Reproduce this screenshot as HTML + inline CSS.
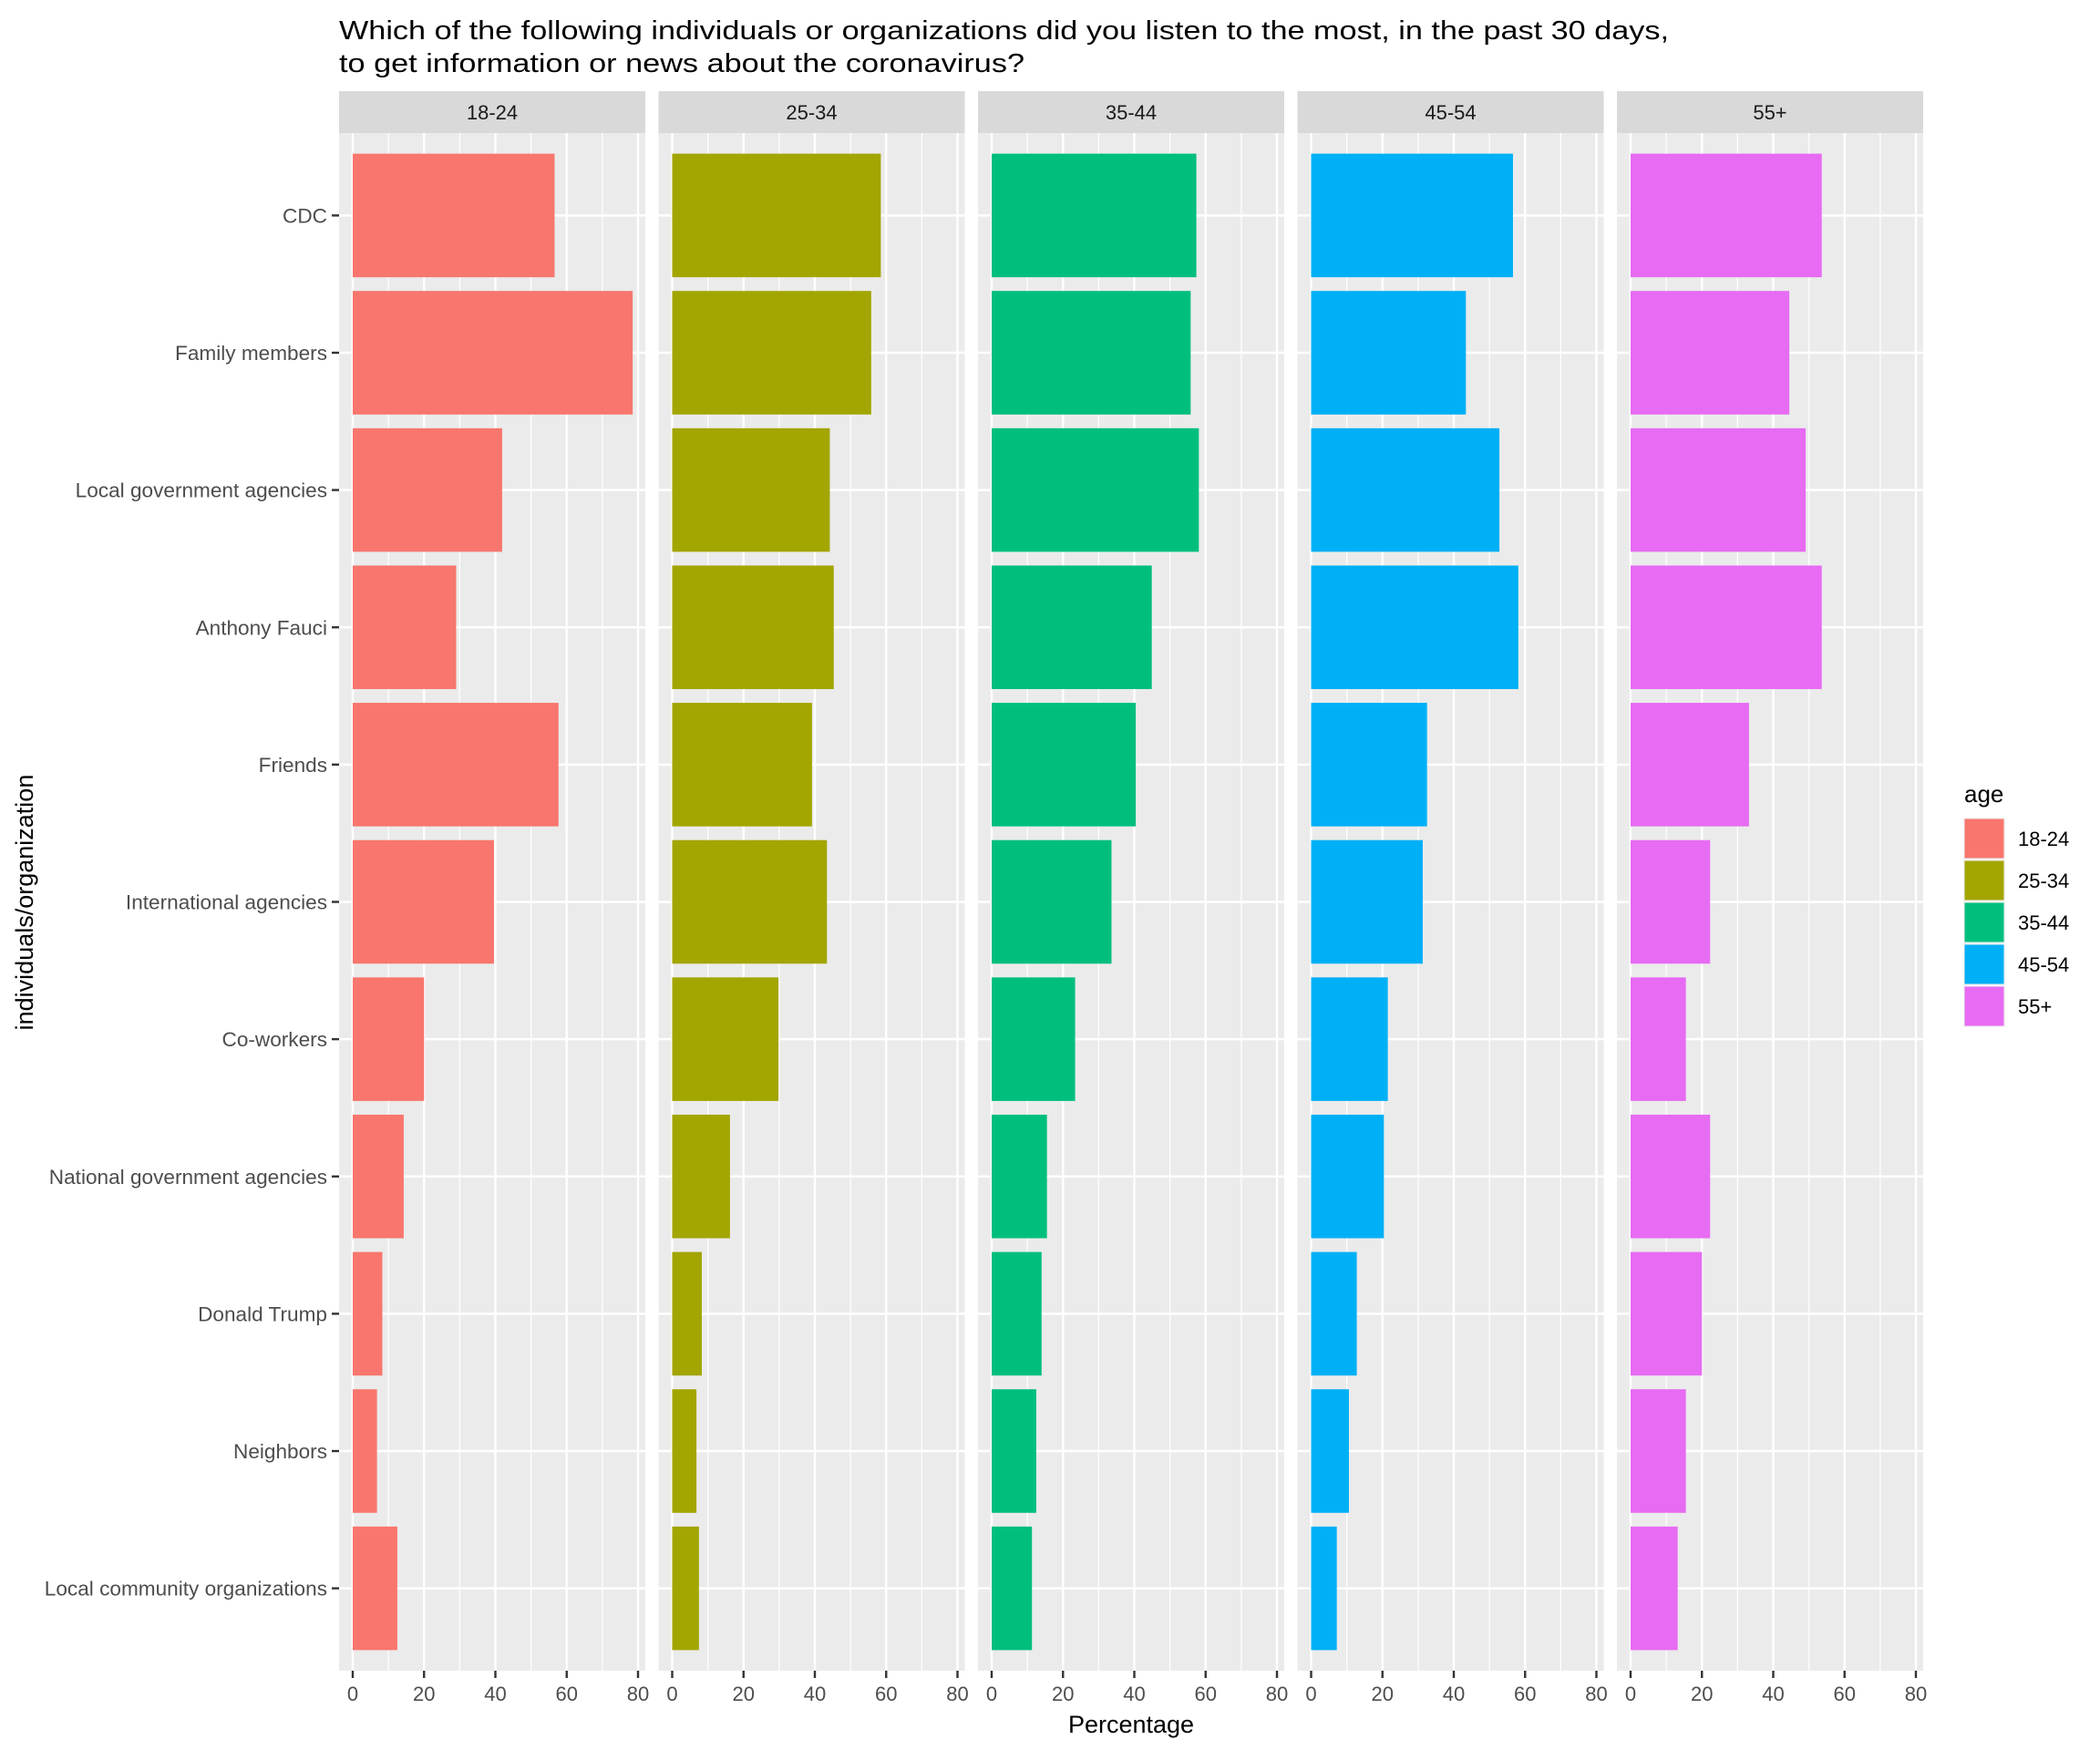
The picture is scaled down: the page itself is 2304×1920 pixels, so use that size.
<!DOCTYPE html>
<html><head><meta charset="utf-8"><style>
html,body{margin:0;padding:0;background:#fff;}
svg{display:block;font-family:"Liberation Sans",Arial,sans-serif;}
</style></head><body>
<svg id="chart" width="2304" height="1920" viewBox="0 0 2304 1920" xmlns="http://www.w3.org/2000/svg">
<text x="372" y="43" font-size="29" fill="#000" textLength="1459" lengthAdjust="spacingAndGlyphs">Which of the following individuals or organizations did you listen to the most, in the past 30 days,</text>
<text x="372" y="79" font-size="29" fill="#000" textLength="752" lengthAdjust="spacingAndGlyphs">to get information or news about the coronavirus?</text>
<text x="1241" y="1901" font-size="27" text-anchor="middle" fill="#000">Percentage</text>
<text transform="translate(36,990) rotate(-90)" font-size="27" text-anchor="middle" fill="#000">individuals/organization</text>
<g id="panels"></g>
<g id="legend"></g>
</svg>
<script>
const categories = ["CDC","Family members","Local government agencies","Anthony Fauci","Friends","International agencies","Co-workers","National government agencies","Donald Trump","Neighbors","Local community organizations"];
const ageGroups = ["18-24","25-34","35-44","45-54","55+"];
const colors = ["#F8766D","#A3A500","#00BF7D","#00B0F6","#E76BF3"];
const values1824 = [56.6,78.5,41.9,29,57.7,39.6,20,14.3,8.3,6.8,12.5];
const values2534 = [58.5,55.8,44.2,45.3,39.2,43.4,29.8,16.2,8.3,6.8,7.5];
const values3544 = [57.4,55.8,58.1,44.9,40.4,33.6,23.4,15.5,14,12.5,11.3];
const values4554 = [56.6,43.4,52.8,58.1,32.5,31.3,21.5,20.4,12.8,10.6,7.2];
const values55 = [53.6,44.5,49.1,53.6,33.2,22.3,15.5,22.3,20,15.5,13.2];
const xTicks = [0,20,40,60,80];
const xMinor = [10,30,50,70];

const series=[values1824,values2534,values3544,values4554,values55];
const NS="http://www.w3.org/2000/svg";
const g=document.getElementById('panels');
function el(t,a,p){const e=document.createElementNS(NS,t);for(const k in a)e.setAttribute(k,a[k]);(p||g).appendChild(e);return e;}
const panelW=336, panelStep=350.5, panelX0=372, plotTop=146, plotBottom=1833, stripTop=100;
const catStep=(plotBottom-plotTop)/(categories.length-1+1.2);
function yPos(i){return plotTop+catStep*(0.6+i);}
function xPos(p,v){return panelX0+p*panelStep+15+v*(313/80);}

for(let p=0;p<ageGroups.length;p++){
  const px=panelX0+p*panelStep;
  const strip=el('rect',{x:px,y:stripTop,width:panelW,height:plotTop-stripTop,fill:'#D9D9D9'});
  
  
  const st=el('text',{x:px+panelW/2,y:stripTop+31,'font-size':22,'text-anchor':'middle',fill:'#1A1A1A'});
  st.textContent=ageGroups[p];
  
  
  const bg=el('rect',{x:px,y:plotTop,width:panelW,height:plotBottom-plotTop,fill:'#EBEBEB'});
  
  
  xMinor.forEach(v=>{const l=el('line',{x1:xPos(p,v),x2:xPos(p,v),y1:plotTop,y2:plotBottom,stroke:'#fff','stroke-width':1.2});
    
    });
  xTicks.forEach(v=>{const l=el('line',{x1:xPos(p,v),x2:xPos(p,v),y1:plotTop,y2:plotBottom,stroke:'#fff','stroke-width':2.4});
    
    
    const tk=el('line',{x1:xPos(p,v),x2:xPos(p,v),y1:plotBottom,y2:plotBottom+8,stroke:'#333','stroke-width':2.4});
    
    
    const t=el('text',{x:xPos(p,v),y:plotBottom+33,'font-size':22,'text-anchor':'middle',fill:'#4D4D4D'});
    t.textContent=v;
    
    });
  categories.forEach((c,i)=>{const l=el('line',{x1:px,x2:px+panelW,y1:yPos(i),y2:yPos(i),stroke:'#fff','stroke-width':2.4});
    
    });
  series[p].forEach((v,i)=>{const h=catStep*0.9;
    const b=el('rect',{x:xPos(p,0),y:yPos(i)-h/2,width:xPos(p,v)-xPos(p,0),height:h,fill:colors[p]});
    
    });
}
categories.forEach((c,i)=>{
  const tk=el('line',{x1:364,x2:372,y1:yPos(i),y2:yPos(i),stroke:'#333','stroke-width':2.4});
  
  
  const t=el('text',{x:359,y:yPos(i)+8,'font-size':22.6,'text-anchor':'end',fill:'#4D4D4D'});
  t.textContent=c;
  
  
});
const lg=document.getElementById('legend');
const lt=el('text',{x:2155,y:880,'font-size':26,fill:'#000'},lg);
lt.textContent='age';


ageGroups.forEach((a,i)=>{
  const y=897+i*46;
  const bx=el('rect',{x:2154,y:y,width:46,height:46,fill:'#F2F2F2'},lg);
  
  
  const k=el('rect',{x:2155.5,y:y+1.5,width:43,height:43,fill:colors[i]},lg);
  
  
  const t=el('text',{x:2214,y:y+31,'font-size':22,fill:'#000'},lg);
  t.textContent=a;
  
  
});
</script>
</body></html>
